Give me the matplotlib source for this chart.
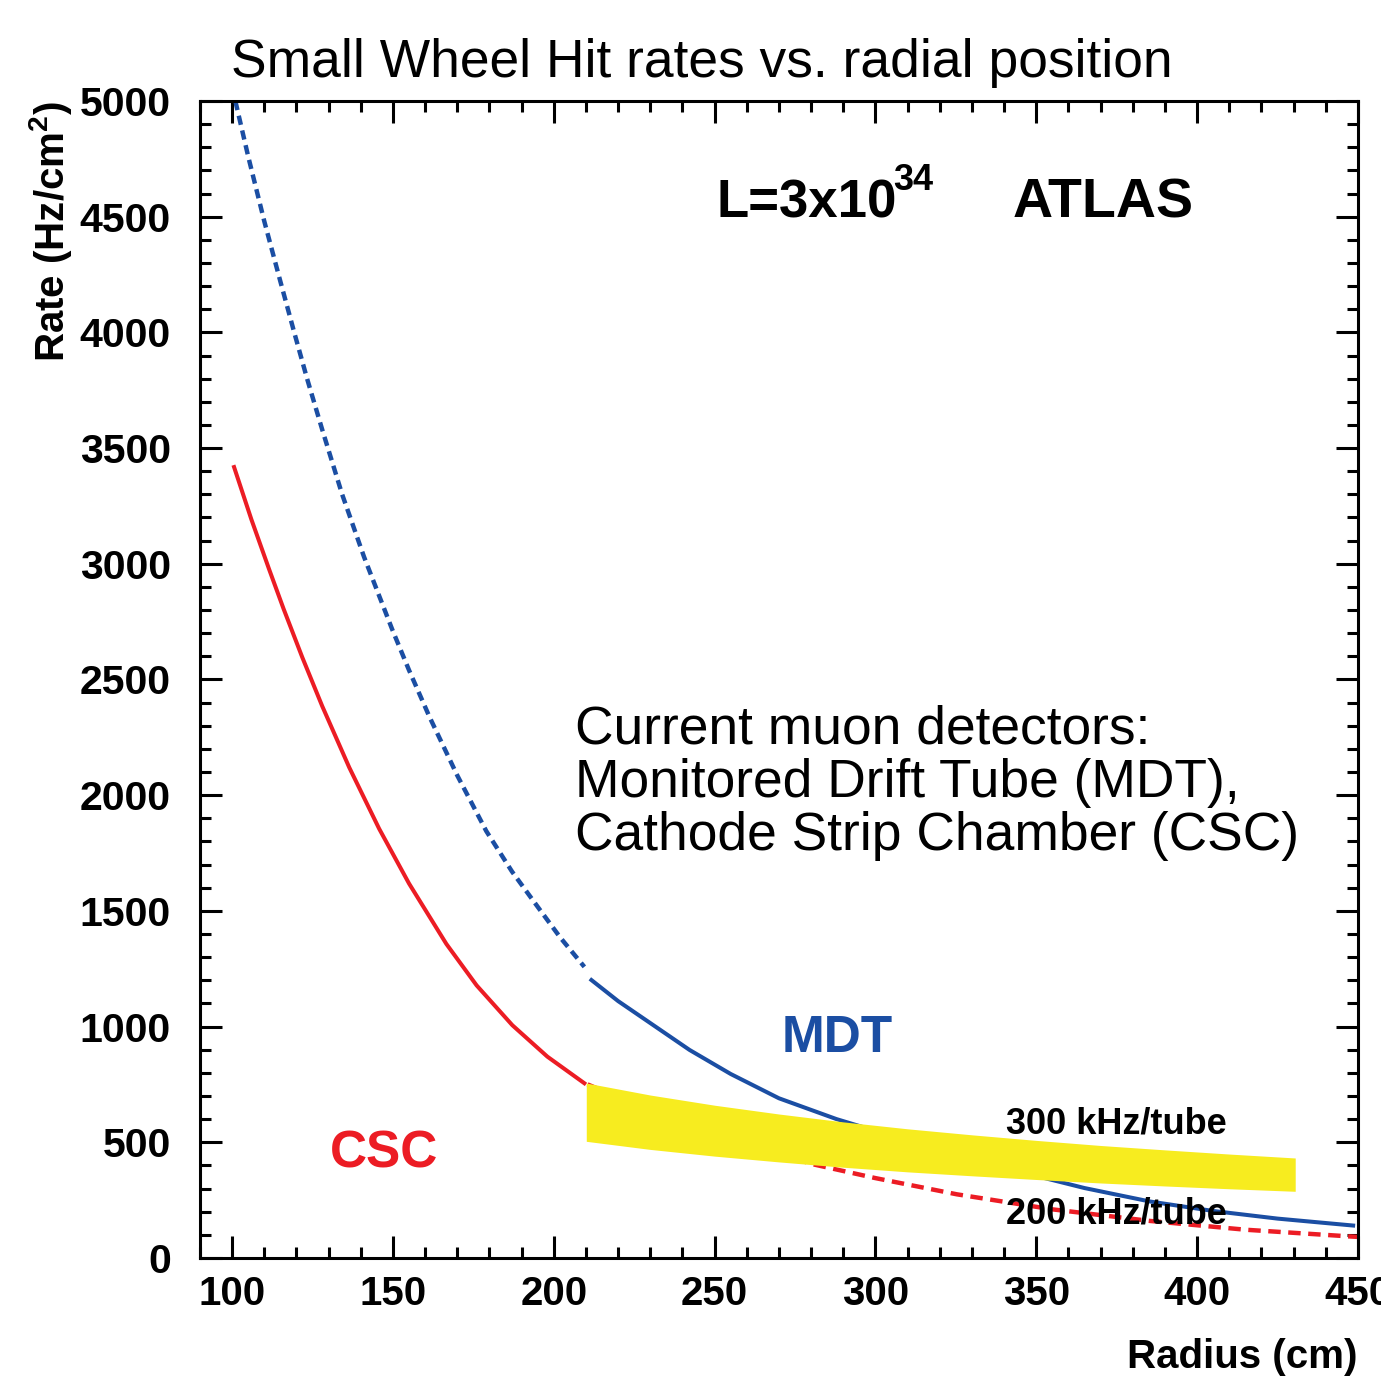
import matplotlib.pyplot as plt
from matplotlib.ticker import MultipleLocator

plt.rcParams['font.family'] = ['Liberation Sans', 'DejaVu Sans']
plt.rcParams['mathtext.default'] = 'regular'

# MDT rate, extrapolated part (dashed) and measured part (solid)
mdt_ext_r = [101, 105, 110, 115, 119.3, 123.3, 128, 134.2, 141, 149.8, 155,
             161.3, 170, 179, 187, 194.6, 202, 209.5]
mdt_ext_rate = [5000, 4760, 4480, 4220, 4000, 3800, 3580, 3300, 3030, 2715, 2540,
                2340, 2085, 1845, 1670, 1525, 1385, 1258]
mdt_r = [211.7, 220, 230, 242.2, 255, 270, 287.9, 305, 320, 335, 348.9, 365,
         385.3, 405, 425, 448.5]
mdt_rate = [1201, 1110, 1015, 899, 795, 690, 600, 528, 468, 410, 358, 302,
            244, 203, 170, 140]

# CSC rate, measured part (solid) and extrapolation (dashed)
csc_r = [100.6, 106, 111.5, 116, 121.8, 128, 136.4, 145.7, 155, 166.6, 176,
         187.1, 198, 209.5]
csc_rate = [3418, 3191, 2976, 2805, 2596, 2385, 2120, 1855, 1618, 1357, 1178,
            1006, 870, 755]
csc_ext_r = [210.5, 225, 245, 262, 280.5, 300, 325.3, 355, 385.3, 415, 448.5, 450]
csc_ext_rate = [750, 665, 565, 485, 405, 345, 275, 210, 160, 122, 92, 91]

# 300 / 200 kHz per tube band
band_r = [210.1, 230, 250, 270, 290, 310, 330, 350, 370, 390, 410, 430.5]
band_300 = [756, 704, 660, 622, 588, 558, 532, 508, 486, 467, 449, 432]
band_200 = [504, 469, 440, 415, 392, 372, 355, 339, 324, 311, 299, 288]

RED = '#ec1c24'
BLUE = '#1b4ea3'
YELLOW = '#f7ec1f'

fig = plt.figure(figsize=(13.81, 13.76), dpi=100)
ax = fig.add_axes([0.1448, 0.0858, 0.9833 - 0.1448, 0.9266 - 0.0858])

ax.plot(mdt_ext_r, mdt_ext_rate, color=BLUE, lw=3.2, ls=(0, (2.1, 1.3)))
ax.plot(mdt_r, mdt_rate, color=BLUE, lw=2.9)
ax.plot(csc_r, csc_rate, color=RED, lw=2.9)
ax.plot(csc_ext_r, csc_ext_rate, color=RED, lw=3.2, ls=(0, (2.8, 1.7)))
ax.fill_between(band_r, band_200, band_300, color=YELLOW, lw=0, zorder=3)

ax.set_xlim(90, 450)
ax.set_ylim(0, 5000)
ax.xaxis.set_major_locator(MultipleLocator(50))
ax.xaxis.set_minor_locator(MultipleLocator(10))
ax.yaxis.set_major_locator(MultipleLocator(500))
ax.yaxis.set_minor_locator(MultipleLocator(100))
ax.tick_params(which='both', direction='in', top=True, right=True, width=2.2)
ax.tick_params(which='major', length=16)
ax.tick_params(which='minor', length=8)
ax.tick_params(axis='y', pad=21, labelsize=29.5)
ax.tick_params(axis='x', pad=12, labelsize=29)
for lab in ax.get_xticklabels() + ax.get_yticklabels():
    lab.set_fontweight('bold')
for sp in ax.spines.values():
    sp.set_linewidth(2.2)

ax.set_xlabel('Radius (cm)', loc='right', fontsize=29, fontweight='bold', labelpad=18)
ax.set_ylabel('Rate (Hz/cm$^{2}$)', loc='top', fontsize=29, fontweight='bold', labelpad=4)

def px(x, y):
    return x / 1381, 1 - y / 1376

fig.text(*px(231, 77), 'Small Wheel Hit rates vs. radial position', fontsize=38.4, va='baseline')
fig.text(*px(717, 218), 'L=3x10', fontsize=38, fontweight='bold', va='baseline')
fig.text(*px(893, 190), '34', fontsize=26, fontweight='bold', va='baseline')
fig.text(*px(1013, 218), 'ATLAS', fontsize=40, fontweight='bold', va='baseline')

info_lines = ['Current muon detectors:', 'Monitored Drift Tube (MDT),',
              'Cathode Strip Chamber (CSC)']
for i, line in enumerate(info_lines):
    fig.text(*px(575, 744 + 53 * i), line, fontsize=38.4, va='baseline')

fig.text(*px(782, 1052), 'MDT', fontsize=37, fontweight='bold', color=BLUE, va='baseline')
fig.text(*px(330, 1167), 'CSC', fontsize=37, fontweight='bold', color=RED, va='baseline')
fig.text(*px(1006, 1134), '300 kHz/tube', fontsize=26, fontweight='bold', va='baseline')
fig.text(*px(1006, 1224), '200 kHz/tube', fontsize=26, fontweight='bold', va='baseline')

fig.savefig('out.png', dpi=100)
